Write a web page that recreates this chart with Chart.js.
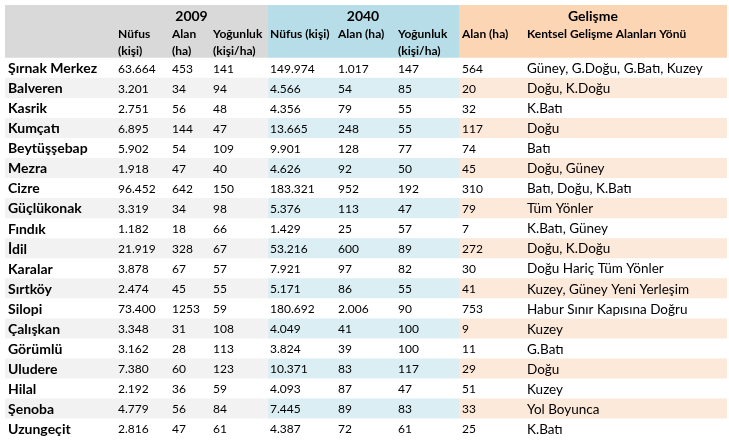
<!DOCTYPE html>
<html>
<head>
<meta charset="utf-8">
<script src="https://cdn.jsdelivr.net/npm/chart.js@4/dist/chart.umd.min.js"></script>
<style>
  body { margin: 0; background: #fff; }
  #wrap { width: 729px; height: 447px; position: relative; }
</style>
</head>
<body>
<div id="wrap"><canvas id="tbl"></canvas></div>
<script>
// --- veriler ---
const ilceler = ['Şırnak Merkez', 'Balveren', 'Kasrik', 'Kumçatı', 'Beytüşşebap', 'Mezra', 'Cizre',
  'Güçlükonak', 'Fındık', 'İdil', 'Karalar', 'Sırtköy', 'Silopi', 'Çalışkan', 'Görümlü', 'Uludere',
  'Hilal', 'Şenoba', 'Uzungeçit'];
const nufus2009 = [63664, 3201, 2751, 6895, 5902, 1918, 96452, 3319, 1182, 21919, 3878, 2474, 73400, 3348, 3162, 7380, 2192, 4779, 2816];
const alan2009 = [453, 34, 56, 144, 54, 47, 642, 34, 18, 328, 67, 45, 1253, 31, 28, 60, 36, 56, 47];
const yogunluk2009 = [141, 94, 48, 47, 109, 40, 150, 98, 66, 67, 57, 55, 59, 108, 113, 123, 59, 84, 61];
const nufus2040 = [149974, 4566, 4356, 13665, 9901, 4626, 183321, 5376, 1429, 53216, 7921, 5171, 180692, 4049, 3824, 10371, 4093, 7445, 4387];
const alan2040 = [1017, 54, 79, 248, 128, 92, 952, 113, 25, 600, 97, 86, 2006, 41, 39, 83, 87, 89, 72];
const yogunluk2040 = [147, 85, 55, 55, 77, 50, 192, 47, 57, 89, 82, 55, 90, 100, 100, 117, 47, 83, 61];
const gelismeAlan = [564, 20, 32, 117, 74, 45, 310, 79, 7, 272, 30, 41, 753, 9, 11, 29, 51, 33, 25];
const gelismeYonu = ['Güney, G.Doğu, G.Batı, Kuzey', 'Doğu, K.Doğu', 'K.Batı', 'Doğu', 'Batı', 'Doğu, Güney',
  'Batı, Doğu, K.Batı', 'Tüm Yönler', 'K.Batı, Güney', 'Doğu, K.Doğu', 'Doğu Hariç Tüm Yönler',
  'Kuzey, Güney Yeni Yerleşim', 'Habur Sınır Kapısına Doğru', 'Kuzey', 'G.Batı', 'Doğu', 'Kuzey',
  'Yol Boyunca', 'K.Batı'];
const gruplar = ['2009', '2040', 'Gelişme'];
const altBasliklar = [['Nüfus', '(kişi)'], ['Alan', '(ha)'], ['Yoğunluk', '(kişi/ha)'],
  ['Nüfus (kişi)'], ['Alan (ha)'], ['Yoğunluk', '(kişi/ha)'], ['Alan (ha)'], ['Kentsel Gelişme Alanları Yönü']];

// --- yerleşim (x birimi ~ piksel, y birimi = satır) ---
const HEADER_H = 2.65;
const groupEdges = [[0, 263], [263, 454], [454, 722]];
const groupCenters = [186.5, 358, 588];
const colX = [3, 113, 167, 208, 265, 333, 393, 457, 522];
const headerColors = ['#d9d9d9', '#b7dee8', '#fcd5b4'];
const altColors = ['#f2f2f2', '#daeef3', '#fde9d9'];
const FONT = 'Lato, "Liberation Sans", sans-serif';
// sütun başına yazı tipi: ad kalın, sayılar dar, yön metni geniş
const colFonts = ['bold 14px ', '12px ', '12px ', '12px ', '12px ', '12px ', '12px ', '12px ', '13.5px '];

const binlik = (n) => String(n).replace(/\B(?=(\d{3})+(?!\d))/g, '.');
const columns = [
  ilceler,
  nufus2009.map(binlik),
  alan2009.map(String),          // tabloda 1253 noktasız
  yogunluk2009.map(String),
  nufus2040.map(binlik),
  alan2040.map(binlik),
  yogunluk2040.map(String),
  gelismeAlan.map(String),
  gelismeYonu
];

const datasets = groupEdges.map((edge, g) => ({
  data: ilceler.map((_, i) => ({ y: i + 0.5, x: edge })),
  backgroundColor: ilceler.map((_, i) => (i % 2 === 1 ? altColors[g] : '#ffffff')),
  borderWidth: 0,
  grouped: false,
  barPercentage: 1,
  categoryPercentage: 1
}));

const tablePlugin = {
  id: 'tablePlugin',
  beforeDatasetsDraw(chart) {
    const { ctx, scales: { x, y } } = chart;
    const top = y.getPixelForValue(-HEADER_H);
    const bot = y.getPixelForValue(0);
    groupEdges.forEach((edge, g) => {
      const l = x.getPixelForValue(edge[0]);
      const r = x.getPixelForValue(edge[1]);
      ctx.fillStyle = headerColors[g];
      ctx.fillRect(l, top, r - l, bot - top);
    });
  },
  afterDatasetsDraw(chart) {
    const { ctx, scales: { x, y } } = chart;
    ctx.save();
    ctx.fillStyle = '#000';
    ctx.textBaseline = 'middle';
    // grup başlıkları
    ctx.font = 'bold 14px ' + FONT;
    ctx.textAlign = 'center';
    gruplar.forEach((t, g) => ctx.fillText(t, x.getPixelForValue(groupCenters[g]), y.getPixelForValue(-2.1)));
    // alt başlıklar
    ctx.font = 'bold 12px ' + FONT;
    ctx.textAlign = 'left';
    altBasliklar.forEach((lines, c) => {
      lines.forEach((t, k) => {
        ctx.fillText(t, x.getPixelForValue(colX[c + 1]), y.getPixelForValue(k === 0 ? -1.18 : -0.33));
      });
    });
    // satırlar
    columns.forEach((col, c) => {
      ctx.font = colFonts[c] + FONT;
      col.forEach((t, i) => {
        ctx.fillText(t, x.getPixelForValue(colX[c]), y.getPixelForValue(i + 0.5) + 0.5);
      });
    });
    ctx.restore();
  }
};

new Chart(document.getElementById('tbl'), {
  type: 'bar',
  data: { datasets },
  options: {
    indexAxis: 'y',
    responsive: true,
    maintainAspectRatio: false,
    animation: false,
    layout: { padding: { left: 5, right: 2, top: 5, bottom: 8 } },
    scales: {
      x: { type: 'linear', min: 0, max: 722, display: false, offset: false },
      y: { type: 'linear', min: -HEADER_H, max: ilceler.length, reverse: true, display: false, offset: false }
    },
    plugins: { legend: { display: false }, tooltip: { enabled: false } }
  },
  plugins: [tablePlugin]
});
</script>
</body>
</html>
